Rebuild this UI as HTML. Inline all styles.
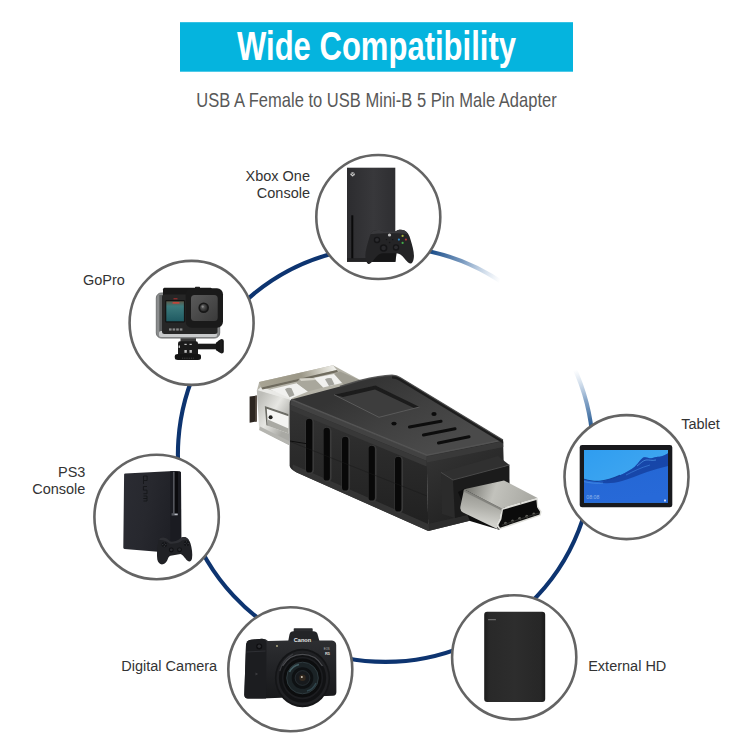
<!DOCTYPE html>
<html lang="en">
<head>
<meta charset="utf-8">
<title>Wide Compatibility</title>
<style>
html,body{margin:0;padding:0;background:#fff;}
body{width:750px;height:750px;overflow:hidden;position:relative;font-family:"Liberation Sans",sans-serif;}
svg{display:block;position:absolute;left:0;top:0;}
.lbl{font-family:"Liberation Sans",sans-serif;font-size:14.5px;fill:#333;}
</style>
</head>
<body>
<svg width="750" height="750" viewBox="0 0 750 750">
<defs>
<linearGradient id="fade1" gradientUnits="userSpaceOnUse" x1="412" y1="248.6" x2="500" y2="281.5">
<stop offset="0" stop-color="#0d3470"/><stop offset="0.2" stop-color="#1a4c88"/><stop offset="0.55" stop-color="#3e6da3" stop-opacity="0.7"/><stop offset="1" stop-color="#86a8cf" stop-opacity="0"/>
</linearGradient>
<linearGradient id="fade2" gradientUnits="userSpaceOnUse" x1="594" y1="446" x2="575" y2="370">
<stop offset="0" stop-color="#0d3470"/><stop offset="0.25" stop-color="#275a92"/><stop offset="0.6" stop-color="#4a79ad" stop-opacity="0.65"/><stop offset="1" stop-color="#86a8cf" stop-opacity="0"/>
</linearGradient>
</defs>
<rect width="750" height="750" fill="#fff"/>
<!-- banner -->
<rect x="180" y="22.2" width="393" height="49.5" fill="#05b4de"/>
<text x="376.5" y="60.2" text-anchor="middle" font-family="Liberation Sans, sans-serif" font-weight="bold" font-size="40" fill="#fff" textLength="279" lengthAdjust="spacingAndGlyphs">Wide Compatibility</text>
<text transform="translate(376.5 107.4) scale(1 1.1)" text-anchor="middle" font-family="Liberation Sans, sans-serif" font-size="19" fill="#585858" textLength="360.5" lengthAdjust="spacingAndGlyphs">USB A Female to USB Mini-B 5 Pin Male Adapter</text>
<!-- RING -->
<g id="ring" fill="none" stroke-width="4.1">
<path d="M592.6 439.8A207.6 207.6 0 1 1 414.4 248.7" stroke="#0d3470"/>
<path d="M412.6 248.5A207.6 207.6 0 0 1 504.6 284.2" stroke="url(#fade1)"/>
<path d="M573.6 366.6A207.6 207.6 0 0 1 592.7 441.6" stroke="url(#fade2)"/>
</g>
<!-- ADAPTER -->
<g id="adapter">
<defs>
<linearGradient id="mtop" gradientUnits="userSpaceOnUse" x1="296" y1="366" x2="306" y2="398"><stop offset="0" stop-color="#8f8b7c"/><stop offset="0.22" stop-color="#c9c6b8"/><stop offset="0.3" stop-color="#f4f4f2"/><stop offset="1" stop-color="#e2e2de"/></linearGradient>
<linearGradient id="mrim" gradientUnits="userSpaceOnUse" x1="259" y1="384" x2="335" y2="367"><stop offset="0" stop-color="#a8a494"/><stop offset="0.55" stop-color="#9b9787"/><stop offset="0.85" stop-color="#d8d6cc"/><stop offset="1" stop-color="#f2f2ee"/></linearGradient>
<linearGradient id="mside" gradientUnits="userSpaceOnUse" x1="258" y1="400" x2="290" y2="420"><stop offset="0" stop-color="#bdbdb8"/><stop offset="0.5" stop-color="#e6e6e2"/><stop offset="1" stop-color="#a9a9a4"/></linearGradient>
<linearGradient id="btop" gradientUnits="userSpaceOnUse" x1="380" y1="376" x2="420" y2="455"><stop offset="0" stop-color="#343434"/><stop offset="0.5" stop-color="#404040"/><stop offset="1" stop-color="#4a4a4a"/></linearGradient>
<linearGradient id="bside" gradientUnits="userSpaceOnUse" x1="0" y1="400" x2="0" y2="530"><stop offset="0" stop-color="#343434"/><stop offset="0.45" stop-color="#2a2a2a"/><stop offset="1" stop-color="#202020"/></linearGradient>
<linearGradient id="bend" gradientUnits="userSpaceOnUse" x1="430" y1="450" x2="480" y2="530"><stop offset="0" stop-color="#343434"/><stop offset="1" stop-color="#1e1e1e"/></linearGradient>
<linearGradient id="ptop" gradientUnits="userSpaceOnUse" x1="470" y1="485" x2="530" y2="505"><stop offset="0" stop-color="#7c7c76"/><stop offset="0.4" stop-color="#c2c2bc"/><stop offset="1" stop-color="#a9a9a3"/></linearGradient>
<linearGradient id="pside" gradientUnits="userSpaceOnUse" x1="480" y1="495" x2="476" y2="522"><stop offset="0" stop-color="#9a9a94"/><stop offset="0.45" stop-color="#b0b0aa"/><stop offset="1" stop-color="#d2d2cd"/></linearGradient>
</defs>
<!-- metal shell -->
<path d="M259.2 382L333 365.2L362 381L292 401L257 390.5Z" fill="#b5b3a8"/>
<path d="M334 374L340 371.5L362 381L345 386Z" fill="#9f9d92"/>
<path d="M257 390.5L261 387L292 396.5L292 401Z" fill="#e9e9e6"/>
<path d="M259.2 382L333 365.2L336.8 370L261.2 387.6Z" fill="url(#mrim)"/>
<path d="M261.2 387.6L336.8 370L338 372L262.5 389.6Z" fill="#6f6b5e"/>
<path d="M270 389.4L296.8 383.2L308 391.4L291 398.6Z" fill="#f1f1ef"/>
<path d="M313.6 378L334 374L342 383L323 387.4Z" fill="#f1f1ef"/>
<path d="M285 389.2Q288 387.2 291.5 388.2L294.5 395.3L289.5 397.2Z" fill="#a3a39d"/>
<path d="M325 379.3Q328 377.3 331.5 378.3L334.5 384.5L329 385.9Z" fill="#a3a39d"/>
<path d="M296.8 383.2L299.5 378.6L313.6 378L323 387.4L308 391.4Z" fill="#a9a79c"/>
<path d="M299.5 378.6L313.6 378L315.5 380L301 381Z" fill="#d5d3c9"/>
<path d="M256.8 390L291 400L289 445L259.2 430Z" fill="url(#mside)"/>
<path d="M264.8 406L288.5 414L288.5 433.5L266.4 425.2Z" fill="#f4f4f2"/>
<path d="M264.8 406L288.5 414L288.5 416.2L266.8 408.8L267.8 425.7L266.4 425.2Z" fill="#6d6d66"/>
<path d="M267.8 419.5L288.5 428.5L288.5 433.5L267.8 425.7Z" fill="#a9a9a3"/>
<path d="M259.2 430L289 445L289 441L260 426.5Z" fill="#b5b5b0"/>
<circle cx="270.6" cy="417.3" r="2" fill="#1e1e1c"/>
<path d="M249.6 396.6L256.8 395.6L256.8 421.4L249.6 422.8Z" fill="#2c2520"/>
<path d="M255.3 395.8L256.8 395.6L256.8 421.4L255.3 421.8Z" fill="#5a5048"/>
<!-- body side face -->
<path d="M291.2 399.6L427 455L428.3 531L296.7 472.5Q289.6 469 289.6 465.2L289.6 404.4Q289.6 400.5 291.2 399.6Z" fill="url(#bside)"/>
<!-- body end face -->
<path d="M426.6 455L503 440L505.3 512L428.3 531Z" fill="url(#bend)"/>
<!-- body top face -->
<path d="M291.2 399.6L340 386.5L360 380.5Q380 375.5 392 375.3Q397 375.5 400 377.5L503 440Q480 446 427 455.3Z" fill="url(#btop)"/>
<!-- bevel highlight -->
<path d="M290.6 405L426.6 461L426.8 455.2L291.2 399.6Z" fill="#424242"/>
<path d="M290.2 410L426.6 466.5L426.6 461L290.6 405Z" fill="#383838"/>
<path d="M291.2 399.6L427 455.3L503 440" stroke="#555" stroke-width="1.6" fill="none" stroke-linejoin="round" opacity="0.85"/>
<path d="M427 456.5L503.2 441.2L503.4 447L427 462.5Z" fill="#3c3c3c" opacity="0.8"/>
<!-- bottom bevel -->
<path d="M296.7 472.5L428.3 531L428.2 524L293 464.5Q291 469.5 296.7 472.5Z" fill="#363636" opacity="0.9"/>
<path d="M428.3 531L505.3 512L505.2 506L428.2 524Z" fill="#2e2e2e" opacity="0.9"/>
<!-- recess -->
<path d="M334 394.7L375.5 385.5L419.5 407L379 417.3Z" fill="#3d3d3d"/>
<path d="M334 394.7L375.5 385.5L419.5 407L414.5 408.2L375 389.6L343 397Z" fill="#1c1c1c"/>
<path d="M334 394.7L379 417.3L419.5 407" stroke="#5a5a5a" stroke-width="1" fill="none"/>
<!-- back-right side sliver -->
<path d="M392 375.3Q397 375.5 400 377.5L503 440L503.2 443.5L399 380.5Q396 378.5 392 378.4Z" fill="#1d1d1d"/>
<path d="M340 386.5L360 380.5Q380 375.5 392 375.3Q397 375.5 400 377.5L503 440" stroke="#4c4c4c" stroke-width="1.4" fill="none" opacity="0.9"/>
<!-- dots and slots on top -->
<ellipse cx="394" cy="423.6" rx="2.6" ry="1.9" fill="#0b0b0b"/>
<ellipse cx="434" cy="414" rx="2.6" ry="1.9" fill="#0b0b0b"/>
<g stroke="#0d0d0d" stroke-width="3.1" stroke-linecap="round"><path d="M409.5 427L441 421.3"/><path d="M423.5 435L455 428.7"/><path d="M438.5 443L469 436.7"/></g>
<!-- grooves on side -->
<g stroke="#3a3a3a" stroke-width="8.6" stroke-linecap="round"><path d="M309.8 422.3L309.8 469.7"/><path d="M327.3 431.3L327.3 477.7"/><path d="M345.8 440.3L345.8 487.7"/><path d="M372.3 449.3L372.3 497.7"/><path d="M398.8 460.3L398.8 508.7"/></g>
<g stroke="#080808" stroke-width="6.4" stroke-linecap="round"><path d="M309.2 422L309.2 469.4"/><path d="M326.7 431L326.7 477.4"/><path d="M345.2 440L345.2 487.4"/><path d="M371.7 449L371.7 497.4"/><path d="M398.2 460L398.2 508.4"/></g>
<path d="M290 441L306 443.6" stroke="#0e0e0e" stroke-width="1"/>
<path d="M290 441.5L427 496" stroke="#1a1a1a" stroke-width="0.8" opacity="0.6"/>
<!-- collar -->
<path d="M441 472.4L498 456L509.4 465L453 480Z" fill="#303030"/>
<path d="M441 472.4L453 480L455 518L442 514Z" fill="#2b2b2b"/>
<path d="M453 480L509.4 465L509.6 504.4L455 518Z" fill="#1b1b1b"/>
<path d="M441 472.4L453 480L509.4 465" stroke="#4a4a4a" stroke-width="1" fill="none"/>
<!-- plug shadow -->
<path d="M458 492L466 488L500 530L470 521Z" fill="#0d0d0d"/>
<!-- plug -->
<path d="M464 489.2L504 480.4L537.6 498L501.6 508.4Z" fill="url(#ptop)"/>
<path d="M464 489.6L501.6 508.4L500 518.8L496.8 525.2L497.8 529.2L463 512.5Q459.5 510.5 460.5 506Z" fill="url(#pside)"/>
<path d="M464 489.6L501.6 508.4L501.3 510.4L463.6 491.6Z" fill="#7b7b75" opacity="0.8"/>
<path d="M501.6 508.4L537.6 498L538.4 506.8L541.6 511.6L540.8 515.6L499.2 529.6L496.8 525.2L500 518.8Z" fill="#deded9"/>
<path d="M503 509.7L536.4 500L537.1 507.3L540 511.8L539.5 514.6L500 527.7L498.4 525.1L501.4 519.2Z" fill="#0b0b0b"/>
<path d="M520.6 504.2L520.9 501.6" stroke="#9a9a94" stroke-width="0.9"/>
<g fill="#5f5f59"><circle cx="505.5" cy="523.2" r="1.5"/><circle cx="512.6" cy="520.9" r="1.5"/><circle cx="519.7" cy="518.6" r="1.5"/><circle cx="526.8" cy="516.3" r="1.5"/><circle cx="533.9" cy="514" r="1.5"/></g>
<path d="M501.8 525.3L538.8 513" stroke="#2b2b29" stroke-width="1.2"/>

</g>
<!-- CIRCLES -->
<g id="circles" fill="#fff" stroke="#646464" stroke-width="2.6">
<circle cx="378.3" cy="217" r="62"/>
<circle cx="191.6" cy="322.9" r="62"/>
<circle cx="156.6" cy="517" r="62.2"/>
<circle cx="290.3" cy="669.3" r="62"/>
<circle cx="514.2" cy="657.3" r="62.1"/>
<circle cx="626.5" cy="477.1" r="62"/>
</g>
<!-- ICONS -->
<g id="xbox">
<defs><linearGradient id="xbg" x1="0" y1="0" x2="1" y2="0"><stop offset="0" stop-color="#2c2c2f"/><stop offset="0.55" stop-color="#38383b"/><stop offset="1" stop-color="#2e2e31"/></linearGradient></defs>
<rect x="347" y="167.7" width="48.3" height="94.1" fill="url(#xbg)"/>
<rect x="347" y="258" width="48.3" height="3.8" fill="#232325"/>
<rect x="351.3" y="215.3" width="2" height="43" fill="#0a0a0b"/>
<circle cx="352.6" cy="174.3" r="2.1" fill="#cfcfcf"/>
<path d="M351.3 173L353.9 175.6M353.9 173L351.3 175.6" stroke="#3a3a3a" stroke-width="0.7"/>
<path d="M372 256L380 251L397 251L395.3 261.8L368 261.8Z" fill="#151516"/>
<path d="M373.7 230.7C377 229.4 381 229.8 383 231.2L396 231.2C398 229.6 402 229.3 404.5 230.6C407.5 232 409.5 235.5 410.5 239.5C412.5 246 414.5 253 413.8 258C413.4 261.5 412 263.8 410.4 263.6C408 263.3 405.5 259.5 402.5 256.3C400.5 254.2 398.5 253.3 396 253.2L383 253.2C380.5 253.3 378.8 254.2 376.8 256.3C373.8 259.5 371.3 263.8 368.9 264C367.3 264.1 365.9 261.5 365.5 258C364.8 253 366.8 246 368.8 239.5C369.8 235.5 371 232 373.7 230.7Z" fill="#242426"/>
<path d="M373.7 230.7C377 229.4 381 229.8 383 231.2L396 231.2C398 229.6 402 229.3 404.5 230.6C406 231.3 407.2 232.6 408.2 234.3C402 232.8 377 232.8 370.3 234.3C371.2 232.6 372.3 231.3 373.7 230.7Z" fill="#39393c"/>
<circle cx="377" cy="240" r="3.2" fill="#151517"/><circle cx="377" cy="239.8" r="1.9" fill="#2c2c2f"/>
<circle cx="383.6" cy="248" r="3.8" fill="#151517"/><circle cx="383.6" cy="248" r="2.2" fill="#29292c"/>
<circle cx="396" cy="247.5" r="3.2" fill="#151517"/><circle cx="396" cy="247.3" r="1.9" fill="#2c2c2f"/>
<circle cx="389.5" cy="235" r="1.6" fill="#c4c4c4"/>
<circle cx="386.5" cy="239.6" r="0.7" fill="#151517"/><circle cx="392.7" cy="239.6" r="0.7" fill="#151517"/><circle cx="389.6" cy="242.5" r="0.8" fill="#151517"/>
<circle cx="402.6" cy="235.9" r="1.1" fill="#a7b23a"/>
<circle cx="398.9" cy="239.6" r="1.1" fill="#2f86c4"/>
<circle cx="405.9" cy="239.6" r="1.1" fill="#b03a3a"/>
<circle cx="402.6" cy="242.9" r="1.1" fill="#43ac48"/>
</g>
<g id="gopro">
<defs>
<linearGradient id="gpscr" x1="0" y1="0" x2="0" y2="1"><stop offset="0" stop-color="#5a5a4a"/><stop offset="0.25" stop-color="#3c7a7c"/><stop offset="1" stop-color="#1f5a62"/></linearGradient>
<radialGradient id="gplens" cx="0.4" cy="0.4" r="0.7"><stop offset="0" stop-color="#6a6a6a"/><stop offset="0.6" stop-color="#3a3a3a"/><stop offset="1" stop-color="#222"/></radialGradient>
<linearGradient id="gpsq" x1="0" y1="0" x2="1" y2="1"><stop offset="0" stop-color="#5a5a5a"/><stop offset="1" stop-color="#3a3a3a"/></linearGradient>
</defs>
<!-- mount -->
<rect x="197" y="343.7" width="20" height="5.6" fill="#1a1a1a"/>
<path d="M215.9 342.7C218 341.5 219.3 339.6 221.5 339Q223.8 339 223.8 341L223.8 351.5Q223.8 353.5 221.5 353.5C219.3 352.9 218 351 215.9 350.3Z" fill="#151515"/>
<path d="M221 339.5L221 353" stroke="#333" stroke-width="0.6"/>
<path d="M180.5 337L196 337L196 343L180.5 343Z" fill="#3a3a3a"/><path d="M178 343.5Q178 341.3 180 341.3L196 341.3Q198 341.3 198 343.5L198 355L178 355Z" fill="#1a1a1a"/>
<g fill="#bdbdbd"><rect x="184.4" y="343.8" width="2.3" height="1.2"/><rect x="189.5" y="343.8" width="2.3" height="1.2"/><rect x="184.4" y="350" width="2.4" height="2.8"/><rect x="189.5" y="350" width="2.4" height="2.8"/></g>
<rect x="178.6" y="345.5" width="1.4" height="2.4" fill="#c8c8c8"/>
<path d="M174.8 356.3Q174.8 354 178 354L198 354Q201 354 201 356.3L201 357.8Q201 360 198 360L178 360Q174.8 360 174.8 357.8Z" fill="#141414"/>
<path d="M182 358.2L194 358.2" stroke="#4a4a4a" stroke-width="0.9" stroke-dasharray="1 0.8"/>
<!-- clear housing -->
<rect x="156.3" y="293" width="63.4" height="45" rx="5" fill="#8a8c8d" stroke="#707273" stroke-width="1"/><rect x="159.3" y="295" width="5" height="37" fill="#5c5e5f"/>
<rect x="159" y="331" width="58" height="6" rx="2" fill="#c9cbcc"/>
<!-- latch -->
<path d="M163 289.2C163 288.2 164 287.7 165 287.7L210 287.7C211 287.7 212 288.2 212 289.2L212 296L163 296Z" fill="#181818"/>
<rect x="195" y="286.8" width="5" height="1.6" rx="0.6" fill="#222"/>
<!-- camera body -->
<rect x="162" y="294.5" width="55.5" height="39.5" rx="2.5" fill="#262626"/>
<!-- screen -->
<rect x="165.3" y="300" width="19.5" height="22.6" rx="1" fill="#111"/>
<rect x="166.3" y="301.3" width="17.6" height="20" fill="url(#gpscr)"/>
<rect x="172.5" y="302" width="7" height="1.8" rx="0.6" fill="#c0463a"/>
<rect x="173.5" y="298.3" width="4" height="1" fill="#b03030"/>
<!-- gopro text blocks -->
<g fill="#8a8a8a"><rect x="169" y="328.4" width="2.6" height="2.2"/><rect x="172.6" y="328.4" width="2.6" height="2.2"/><rect x="176.2" y="328.4" width="2.6" height="2.2"/><rect x="179.8" y="328.4" width="2.6" height="2.2"/></g>
<!-- lens housing -->
<rect x="185.7" y="288.3" width="37.3" height="39.4" rx="6" fill="#1a1a1a"/>
<rect x="191" y="295" width="26.7" height="26" rx="3.5" fill="url(#gpsq)"/>
<circle cx="203.7" cy="307.7" r="5.3" fill="#171717"/><circle cx="203.7" cy="307.7" r="3.6" fill="url(#gplens)"/>
<circle cx="202.7" cy="306.6" r="1.1" fill="#8a8a8a"/>
</g>
<g id="ps3">
<defs>
<linearGradient id="ps3b" x1="0" y1="0" x2="1" y2="0.3"><stop offset="0" stop-color="#2b2c33"/><stop offset="0.5" stop-color="#27282e"/><stop offset="1" stop-color="#1e1f25"/></linearGradient>
<linearGradient id="ps3s" x1="0" y1="0" x2="1" y2="0"><stop offset="0" stop-color="#14151a"/><stop offset="0.45" stop-color="#3d3f47"/><stop offset="0.7" stop-color="#6a6c74"/><stop offset="1" stop-color="#1a1b20"/></linearGradient>
</defs>
<path d="M124.1 474.6Q124.1 473.6 125.3 473.5L173.9 471L179.8 471.6Q181 471.8 181 473L181.3 552L158 551.8L124.5 548.9Q123.3 548.8 123.3 547.6Z" fill="url(#ps3b)"/>
<path d="M170.2 471.3L173.9 471L179.8 471.6Q181 471.8 181 473L181.3 552L170.5 551.9Z" fill="#1a1b21"/>
<rect x="174.4" y="471.8" width="3.6" height="44" fill="#0b0b0e"/><rect x="173.2" y="471.8" width="1.3" height="43" fill="#62646b"/>
<rect x="171.6" y="513.2" width="6.2" height="2.4" fill="#55585f"/><rect x="174.6" y="513.8" width="3" height="1.3" fill="#b9bcc4"/>
<g fill="none" stroke="#15161a" stroke-width="0.9"><path d="M143.5 476h3.6v4.5h-3.6zM143.5 480.5v3.5"/><path d="M147 486.5h-3.6v3.6h3.6v3.6h-3.6"/><path d="M143.5 496h3.5v2.5h-3.5h3.5v2.5h-3.5"/></g>
<!-- controller -->
<path d="M160 538.3C162.5 536.8 166 537.5 168 539.5L170 541.5C173 542 177 541 179 539.5C180.5 537.5 183 536.3 185.5 537.2C188 538.2 189.7 540.5 190.5 543.5C191.8 548 192.8 554 192 558.5C191.5 561 190 562 188.5 561.3C186.5 560.3 185.5 558.5 184.5 557.5C183.3 555.8 182 554.3 180.5 554L170.5 555.7C169 556 168.3 557.5 167.8 559C167 561.5 165.5 563.5 163 564.3C160.5 565 158 563 157.3 559.5C156.7 555 157 548 158 543.5C158.4 541 159 539.3 160 538.3Z" fill="#202125"/>
<path d="M160 538.3C162.5 536.8 166 537.5 168 539.5L170 541.5C173 542 177 541 179 539.5C180.5 537.5 183 536.3 185.5 537.2C187 537.8 188.3 538.9 189.2 540.4C186 539 182 540 180 542C177 543.6 172 544 169.5 543.5C167 541 162 539.6 159.2 540.2C159.4 539.4 159.6 538.8 160 538.3Z" fill="#2e2f34"/>
<circle cx="164.3" cy="544.6" r="2.7" fill="#131417"/>
<circle cx="186.6" cy="543.4" r="2.7" fill="#131417"/>
<circle cx="171.3" cy="550" r="2.4" fill="#0f1013"/><circle cx="171.3" cy="549.8" r="1.4" fill="#2c2d32"/>
<circle cx="179.5" cy="549.8" r="2.4" fill="#0f1013"/><circle cx="179.5" cy="549.6" r="1.4" fill="#2c2d32"/>
<g fill="#3d3e44"><circle cx="164.3" cy="543" r="0.6"/><circle cx="162.8" cy="544.6" r="0.6"/><circle cx="165.8" cy="544.6" r="0.6"/><circle cx="164.3" cy="546.2" r="0.6"/><circle cx="186.6" cy="541.8" r="0.6"/><circle cx="185" cy="543.4" r="0.6"/><circle cx="188.2" cy="543.4" r="0.6"/><circle cx="186.6" cy="545" r="0.6"/></g>
</g>
<g id="camera">
<defs>
<linearGradient id="cmb" x1="0" y1="0" x2="0" y2="1"><stop offset="0" stop-color="#2e2f32"/><stop offset="0.5" stop-color="#222326"/><stop offset="1" stop-color="#18191b"/></linearGradient>
<radialGradient id="cml" cx="0.5" cy="0.5" r="0.5"><stop offset="0" stop-color="#0a0a0c"/><stop offset="0.25" stop-color="#17181c"/><stop offset="0.27" stop-color="#2c3238"/><stop offset="0.5" stop-color="#1a2226"/><stop offset="0.55" stop-color="#0d0e10"/><stop offset="0.78" stop-color="#1d1e21"/><stop offset="0.8" stop-color="#3a3b3f"/><stop offset="0.84" stop-color="#1c1d20"/><stop offset="0.96" stop-color="#242528"/><stop offset="1" stop-color="#111214"/></radialGradient>
</defs>
<!-- hot shoe -->
<rect x="293.7" y="628.2" width="19" height="4" rx="0.8" fill="#2a2b2e"/>
<!-- viewfinder hump -->
<path d="M287.5 645L289.5 634.5Q290.2 631.2 293.5 631.2L313.5 631.2Q316.5 631.2 317.5 634L320.5 645Z" fill="#232427"/>
<!-- body -->
<path d="M246 645Q246.5 640.3 251 639.7L262 638.8Q266 638.8 268 641L288 640.5L320 640.5L332 640.5Q336.2 641 336.2 645L336.4 692Q336.4 695.5 333 695.8L262 698.6L248 698.6Q244.3 698.3 244.3 694.5Z" fill="url(#cmb)"/>
<!-- grip -->
<path d="M246 645Q246.5 640.3 251 639.7L262 638.8Q266.5 639 266.5 644L266 698.6L248 698.6Q244.3 698.3 244.3 694.5Z" fill="#1c1d20"/>
<path d="M246.5 652L265.5 651" stroke="#34353a" stroke-width="0.8"/>
<circle cx="259.2" cy="646.5" r="3" fill="#0e0e10"/><circle cx="259.2" cy="646.2" r="1.7" fill="#2d2e31"/>
<circle cx="277" cy="646" r="0.9" fill="#b9b48a"/>
<path d="M255.5 672.5l2.6 1.5l-2.6 1.5z" fill="#3c3d41"/>
<!-- lens -->
<ellipse cx="302.5" cy="678" rx="27.6" ry="29.2" fill="#141517"/>
<ellipse cx="302.5" cy="678" rx="26" ry="27.4" fill="#202124"/>
<ellipse cx="302.5" cy="678" rx="23.6" ry="24.6" fill="#111214"/>
<path d="M282.5 666A23.6 24.6 0 0 1 322.5 666" stroke="#4b4c50" stroke-width="1.3" fill="none"/>
<path d="M279.8 671A25.5 27 0 0 1 293 654" stroke="#3a3b3f" stroke-width="1.2" fill="none"/>
<ellipse cx="302.5" cy="678" rx="20.5" ry="21.3" fill="#1c1d20"/>
<ellipse cx="302.5" cy="678" rx="19" ry="19.6" fill="#0c0d0e"/>
<circle cx="302.5" cy="678" r="15.8" fill="#1b2326"/>
<circle cx="302.5" cy="678" r="15.8" fill="none" stroke="#2e3a3e" stroke-width="1"/>
<path d="M289.5 672A14 14 0 0 1 299 664.5" stroke="#4b6a70" stroke-width="1.6" fill="none" opacity="0.85"/>
<path d="M316 683A14 14 0 0 1 307 691" stroke="#3a5560" stroke-width="1.4" fill="none" opacity="0.7"/>
<circle cx="302.5" cy="678" r="10.8" fill="#0e1113"/>
<circle cx="302.5" cy="678" r="7.4" fill="#171a1d"/>
<circle cx="302.5" cy="678" r="7.4" fill="none" stroke="#2b3338" stroke-width="0.8"/>
<circle cx="302.5" cy="677.8" r="3.2" fill="#33291f"/>
<circle cx="301.8" cy="677" r="1" fill="#d0c8b8"/>
<text x="302.5" y="642.3" text-anchor="middle" font-family="Liberation Sans, sans-serif" font-weight="bold" font-size="5.6" fill="#e8e8e8" textLength="17.5" lengthAdjust="spacingAndGlyphs">Canon</text>
<text x="326.8" y="650" text-anchor="middle" font-family="Liberation Sans, sans-serif" font-size="2.8" fill="#bdbdbd">EOS</text>
<text x="327.5" y="655.2" text-anchor="middle" font-family="Liberation Sans, sans-serif" font-weight="bold" font-size="4" fill="#d8d8d8">R5</text>
</g>
<g id="hd">
<defs><linearGradient id="hdg" x1="0" y1="0" x2="1" y2="0"><stop offset="0" stop-color="#1b1b1b"/><stop offset="0.08" stop-color="#292929"/><stop offset="0.5" stop-color="#2d2d2d"/><stop offset="0.92" stop-color="#272727"/><stop offset="1" stop-color="#1a1a1a"/></linearGradient></defs>
<rect x="484.2" y="611.7" width="61" height="90.3" rx="3" fill="url(#hdg)"/>
<rect x="488" y="619" width="8" height="1.3" rx="0.5" fill="#6a6a6a"/>
</g>
<g id="tablet">
<defs>
<linearGradient id="tbsky" x1="0" y1="0" x2="1" y2="1"><stop offset="0" stop-color="#2f9df0"/><stop offset="0.6" stop-color="#3fa6f0"/><stop offset="1" stop-color="#2f8ee6"/></linearGradient>
<linearGradient id="tbsea" x1="0" y1="0" x2="0.3" y2="1"><stop offset="0" stop-color="#1d56bc"/><stop offset="0.3" stop-color="#2467d4"/><stop offset="1" stop-color="#2769d8"/></linearGradient>
<clipPath id="tbclip"><rect x="584" y="450" width="84" height="52.7"/></clipPath>
</defs>
<rect x="579.7" y="445.1" width="92.6" height="62.2" rx="2.4" fill="#18191d"/>
<rect x="584" y="450" width="84" height="52.7" fill="url(#tbsky)"/>
<g clip-path="url(#tbclip)">
<path d="M584 479.3C589 480.6 594 481.8 599 481.3C607 480.5 614 478 620 475.3C626 472.5 631 469.5 634.7 466.7C638.5 463.5 641 458.2 644 457.3C647 456.6 649 458.8 651.5 458.2C654.5 457.4 656.5 456.4 658.7 456.7C662 457 665 455 668 453.3L668 504L584 504Z" fill="url(#tbsea)"/>
<path d="M620 475.3C626 472.5 631 469.5 634.7 466.7C638.5 463.5 641 458.2 644 457.3C647 456.6 649 458.8 651.5 458.2C654.5 457.4 656.5 456.4 658.7 456.7C662 457 665 455 668 453.3L668 466C661 467.5 654 469.5 647 472C639 475 630 478.5 622 481C614 483.4 606 483.8 599 482.6C606 481 614 478 620 475.3Z" fill="#143f9e" opacity="0.8"/>
<path d="M584 479.3C589 480.6 594 481.8 599 481.3C607 480.5 614 478 620 475.3" stroke="#123a92" stroke-width="1.1" fill="none" opacity="0.85"/>
<path d="M584 481.6C590 483 597 483.8 603 483" stroke="#5aa6ee" stroke-width="0.7" fill="none" opacity="0.7"/>
<path d="M637 466C641 463 643 460.5 646 460C649 459.6 652 461 656 460" stroke="#4f96e6" stroke-width="0.9" fill="none" opacity="0.8"/>
<path d="M626 475C633 471.5 641 467.5 650 465" stroke="#3f82dc" stroke-width="0.8" fill="none" opacity="0.8"/>
</g>
<text x="586.3" y="499" font-family="Liberation Sans, sans-serif" font-size="5.2" fill="#cfe0fa" opacity="0.6">08:08</text>
<rect x="664" y="499.6" width="2" height="1.8" rx="0.4" fill="#e8f0ff" opacity="0.9"/>
</g>
<!-- LABELS -->
<g class="lbl">
<text transform="translate(310 181) scale(1 1.05)" text-anchor="end">Xbox One</text>
<text transform="translate(310 198.3) scale(1 1.05)" text-anchor="end">Console</text>
<text transform="translate(82.9 285.4) scale(1 1.05)" text-anchor="start">GoPro</text>
<text transform="translate(85.4 476.9) scale(1 1.05)" text-anchor="end">PS3</text>
<text transform="translate(85.4 494.1) scale(1 1.05)" text-anchor="end">Console</text>
<text transform="translate(121.3 671) scale(1 1.05)" text-anchor="start">Digital Camera</text>
<text transform="translate(588.2 671.3) scale(1 1.05)" text-anchor="start">External HD</text>
<text transform="translate(681.2 428.6) scale(1 1.05)" text-anchor="start">Tablet</text>
</g>
</svg>
</body>
</html>
